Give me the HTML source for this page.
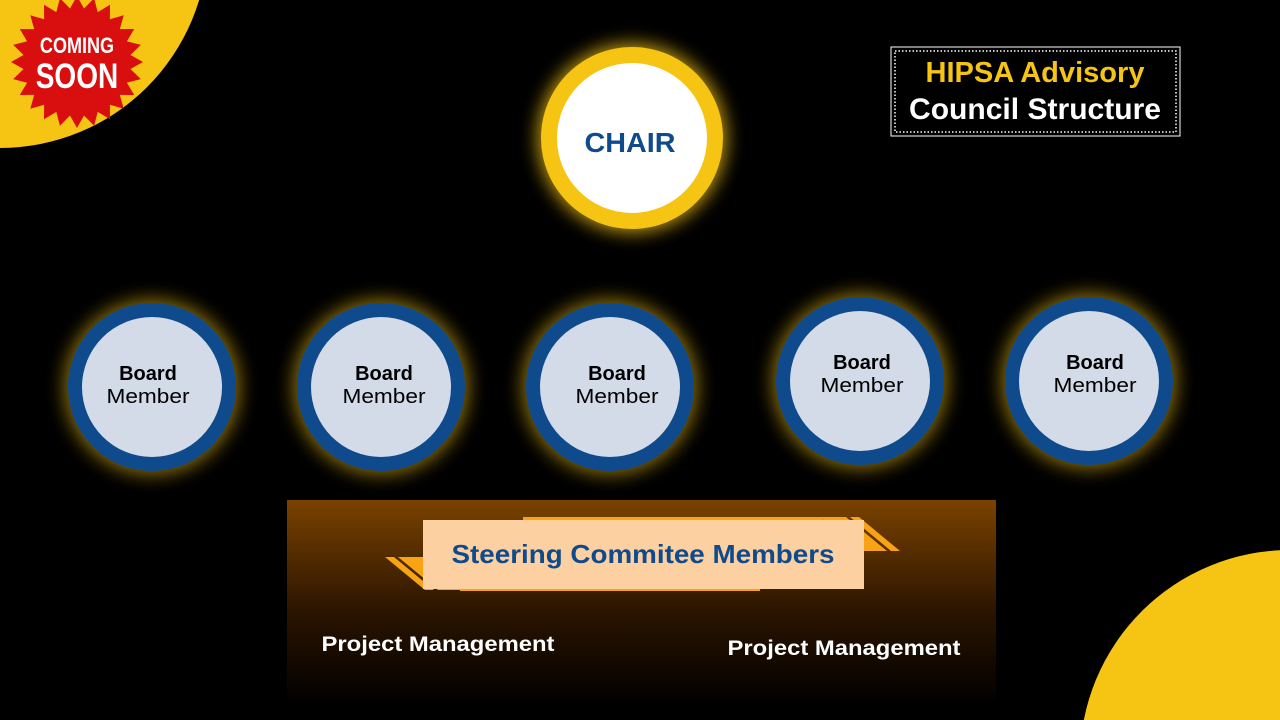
<!DOCTYPE html>
<html><head><meta charset="utf-8">
<style>
html,body{margin:0;padding:0;background:#000;width:1280px;height:720px;overflow:hidden;}
body{position:relative;font-family:"Liberation Sans",sans-serif;}
svg{position:absolute;left:0;top:0;display:block;}
</style></head>
<body>
<svg width="1280" height="720" viewBox="0 0 1280 720">
<defs>
<filter id="glow" x="-50%" y="-50%" width="200%" height="200%">
<feGaussianBlur stdDeviation="9"/>
</filter>
<linearGradient id="pg" x1="0" y1="0" x2="0" y2="1">
<stop offset="0" stop-color="#7a4200"/>
<stop offset="0.55" stop-color="#2a1400"/>
<stop offset="1" stop-color="#000"/>
</linearGradient>
</defs>
<rect width="1280" height="720" fill="#000"/>
<circle cx="0" cy="-60" r="208" fill="#f6c412"/>
<circle cx="1290" cy="760" r="210" fill="#f6c412"/>
<polygon id="star" fill="#d90f0f"/>
<text x="77" y="53" fill="#fff" font-weight="bold" font-size="22" text-anchor="middle" transform="translate(77 0) scale(0.82 1) translate(-77 0)">COMING</text>
<text x="77" y="88" fill="#fff" font-weight="bold" font-size="35" text-anchor="middle" transform="translate(77 0) scale(0.8 1) translate(-77 0)">SOON</text>

<!-- title -->
<rect x="891" y="47" width="289" height="89" fill="#000" stroke="#fff" stroke-width="1"/>
<rect x="895" y="51" width="281" height="81" fill="none" stroke="#fff" stroke-width="1.5" stroke-dasharray="1.5 2"/>
<text x="1035" y="82" fill="#f6c412" font-weight="bold" font-size="29" text-anchor="middle" textLength="219" lengthAdjust="spacingAndGlyphs">HIPSA Advisory</text>
<text x="1035" y="119" fill="#fff" font-weight="bold" font-size="30" text-anchor="middle" textLength="252" lengthAdjust="spacingAndGlyphs">Council Structure</text>

<!-- chair -->
<circle cx="632" cy="138" r="94" fill="#f6c412" opacity="0.8" filter="url(#glow)"/>
<circle cx="632" cy="138" r="91" fill="#f6c412"/>
<circle cx="632" cy="138" r="75" fill="#fff"/>
<text x="630" y="152" fill="#0e4a8c" font-weight="bold" font-size="28" text-anchor="middle" textLength="91" lengthAdjust="spacingAndGlyphs">CHAIR</text>

<!-- board -->
<g id="boards"></g>

<!-- panel -->
<rect x="287" y="500" width="709" height="205" fill="url(#pg)"/>
<polygon points="385,557 394,557 434,590 425,590" fill="#f7a313"/>
<polygon points="398,557 426,557 466,590 438,590" fill="#f7a313"/>
<polygon points="850,517 859,517 900,551 891,551" fill="#f7a313"/>
<polygon points="820,517 846,517 887,551 861,551" fill="#f7a313"/>
<rect x="523" y="517" width="300" height="5" fill="#f7a313"/>
<rect x="460" y="586" width="300" height="5" fill="#f7a313"/>
<rect x="423" y="520" width="441" height="69" fill="#fdd0a2"/>
<text x="643" y="563" fill="#0e4a8c" font-weight="bold" font-size="26" text-anchor="middle" textLength="383" lengthAdjust="spacingAndGlyphs">Steering Commitee Members</text>
<text x="438" y="651" fill="#fff" font-weight="bold" font-size="21" text-anchor="middle" textLength="233" lengthAdjust="spacingAndGlyphs">Project Management</text>
<text x="844" y="655" fill="#fff" font-weight="bold" font-size="21" text-anchor="middle" textLength="233" lengthAdjust="spacingAndGlyphs">Project Management</text>
</svg>
<script>
(function(){
var pts=[],cx=77,cy=62,n=24;
for(var i=0;i<2*n;i++){var r=i%2?54:66;var a=Math.PI*i/n - Math.PI/2;pts.push((cx+r*Math.cos(a)).toFixed(1)+","+(cy+r*Math.sin(a)).toFixed(1));}
document.getElementById('star').setAttribute('points',pts.join(' '));
var b=[[152,387,148],[381,387,384],[610,387,617],[860,381,862],[1089,381,1095]];
var g=document.getElementById('boards'),h='';
b.forEach(function(c){
var ty=c[1]<385?c[1]-10:c[1]-5;
h+='<circle cx="'+c[0]+'" cy="'+c[1]+'" r="88" fill="#f6c412" opacity="0.55" filter="url(#glow)"/>'+
'<circle cx="'+c[0]+'" cy="'+c[1]+'" r="84" fill="#0e4a8c"/>'+
'<circle cx="'+c[0]+'" cy="'+c[1]+'" r="70" fill="#d2dbe7"/>'+
'<text x="'+c[2]+'" y="'+(ty-2)+'" fill="#000" font-weight="bold" font-size="20" text-anchor="middle" font-family="Liberation Sans">Board</text>'+
'<text x="'+c[2]+'" y="'+(ty+21)+'" fill="#000" font-size="20" text-anchor="middle" font-family="Liberation Sans" textLength="83" lengthAdjust="spacingAndGlyphs">Member</text>';
});
g.innerHTML=h;
})();
</script>
</body></html>
